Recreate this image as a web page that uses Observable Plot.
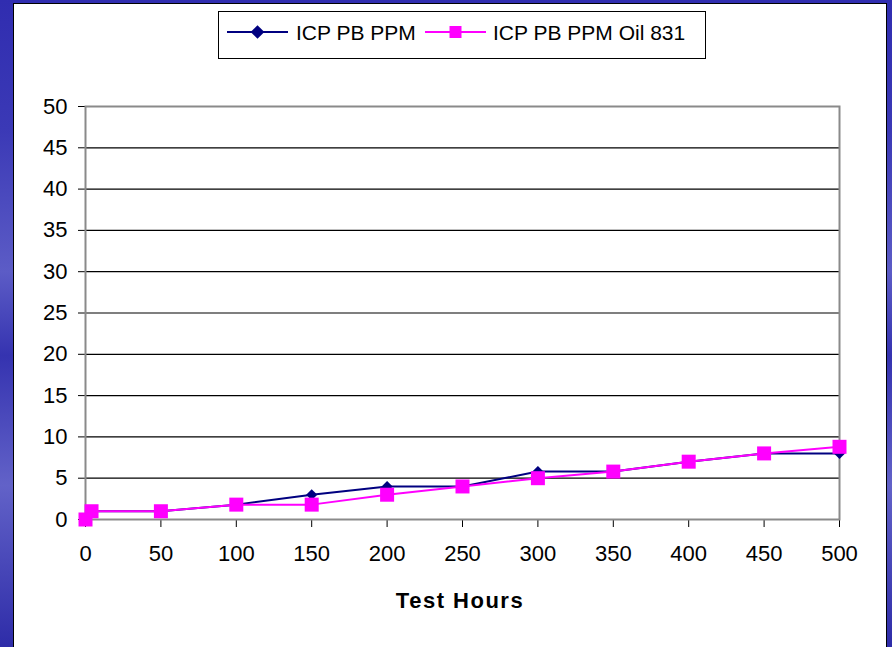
<!DOCTYPE html>
<html>
<head>
<meta charset="utf-8">
<script src="https://cdn.jsdelivr.net/npm/d3@7"></script>
<script src="https://cdn.jsdelivr.net/npm/@observablehq/plot@0.6"></script>
<style>
  html, body { margin: 0; padding: 0; }
  body {
    width: 892px; height: 647px; overflow: hidden; position: relative;
    background: linear-gradient(180deg, #302db0 0%, #3b39b6 20%, #5c5cc6 42%, #3533b0 55%, #6262c8 75%, #2e2ca8 100%);
    font-family: "Liberation Sans", Arial, sans-serif;
  }
  #panel {
    position: absolute; left: 13px; top: 3px; width: 872px; height: 660px;
    background: #fff; border: 1px solid #000;
  }
  #chart { position: absolute; left: 0; top: 0; }
  #legend { position: absolute; left: 218px; top: 11px; }
  #xtitle {
    position: absolute; left: 360px; width: 200px; top: 590px; text-align: center;
    font-size: 22px; line-height: 22px; font-weight: bold; letter-spacing: 1.5px; color: #000;
  }
</style>
</head>
<body>
<div id="panel"></div>
<div id="chart"></div>
<div id="legend"></div>
<div id="xtitle">Test Hours</div>
<script>
// ---- data ----
const hours   = [0, 4, 50, 100, 150, 200, 250, 300, 350, 400, 450, 500];
const icpPb   = [0, 1, 1, 1.8, 3, 4, 4, 5.8, 5.8, 7, 8, 8];
const icpPb831 = [0, 1, 1, 1.8, 1.8, 3, 4, 5, 5.8, 7, 8, 8.8];
const seriesNames = ["ICP PB PPM", "ICP PB PPM Oil 831"];
const xTicks = [0, 50, 100, 150, 200, 250, 300, 350, 400, 450, 500];
const yTicks = [0, 5, 10, 15, 20, 25, 30, 35, 40, 45, 50];

const blueColor = "#000080";
const pinkColor = "#ff00ff";

const blueData = hours.map((h, i) => ({h, v: icpPb[i]}));
const pinkData = hours.map((h, i) => ({h, v: icpPb831[i]}));

const chart = Plot.plot({
  width: 892,
  height: 647,
  marginLeft: 85,
  marginRight: 53,
  marginTop: 106,
  marginBottom: 128,
  style: {background: "transparent", fontFamily: "'Liberation Sans', Arial, sans-serif", fontSize: "22px", color: "#000", overflow: "visible"},
  x: {domain: [0, 500], ticks: xTicks, tickSize: 8, tickPadding: 18, tickFormat: d => String(d), label: null},
  y: {domain: [0, 50], ticks: yTicks, tickSize: 7, tickPadding: 11, tickFormat: d => String(d), label: null},
  marks: [
    Plot.ruleY(yTicks.filter(d => d > 0 && d < 50), {stroke: "#000", strokeWidth: 1.2}),
    Plot.frame({stroke: "#8a8a8a", strokeWidth: 2}),
    Plot.line(blueData, {x: "h", y: "v", stroke: blueColor, strokeWidth: 2}),
    Plot.dot(blueData, {x: "h", y: "v", symbol: "diamond2", r: 5, fill: blueColor, stroke: "none"}),
    Plot.line(pinkData, {x: "h", y: "v", stroke: pinkColor, strokeWidth: 2}),
    Plot.dot(pinkData, {x: "h", y: "v", symbol: "square", r: 7.9, fill: pinkColor, stroke: "none"})
  ]
});
document.getElementById("chart").appendChild(chart);

// ---- legend ----
const lw = 488, lh = 48;
const leg = d3.select("#legend").append("svg").attr("width", lw).attr("height", lh)
  .style("font-family", "'Liberation Sans', Arial, sans-serif");
leg.append("rect").attr("x", 0.5).attr("y", 0.5).attr("width", lw - 1).attr("height", lh - 1)
  .attr("fill", "#fff").attr("stroke", "#000");
const items = [
  {name: seriesNames[0], color: blueColor, sym: d3.symbolDiamond2, size: 120, x0: 9, tx: 78},
  {name: seriesNames[1], color: pinkColor, sym: d3.symbolSquare, size: 144, x0: 207, tx: 275}
];
items.forEach(it => {
  const g = leg.append("g");
  g.append("line").attr("x1", it.x0).attr("x2", it.x0 + 61).attr("y1", 21).attr("y2", 21)
    .attr("stroke", it.color).attr("stroke-width", 2);
  g.append("path").attr("d", d3.symbol(it.sym, it.size)()).attr("transform", `translate(${it.x0 + 30.5},21)`)
    .attr("fill", it.color);
  g.append("text").attr("x", it.tx).attr("y", 28.5).attr("font-size", 21).attr("fill", "#000").text(it.name);
});
</script>
</body>
</html>
